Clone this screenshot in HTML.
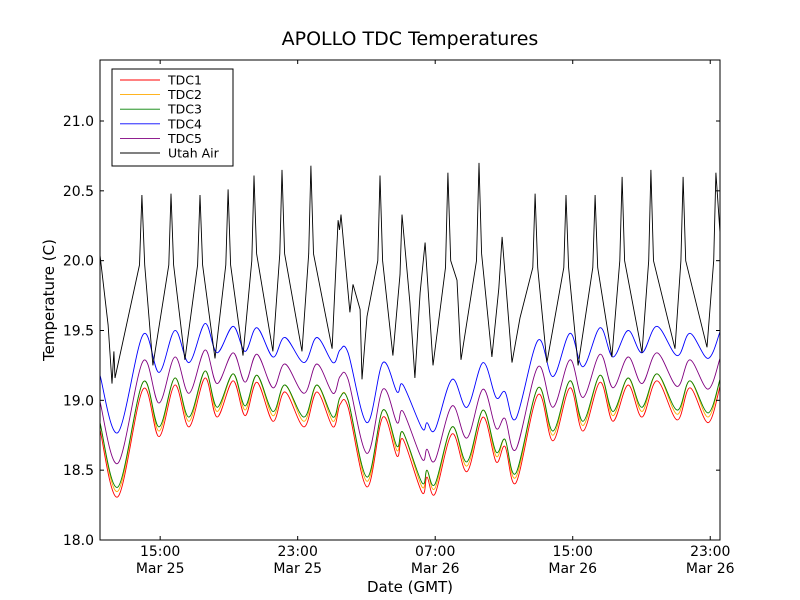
<!DOCTYPE html>
<html><head><meta charset="utf-8"><style>
html,body{margin:0;padding:0;background:#fff;}
svg{display:block;font-family:"DejaVu Sans","Liberation Sans",sans-serif;}
</style></head><body>
<svg id="chart" width="800" height="600" viewBox="0 0 800 600" xmlns="http://www.w3.org/2000/svg">
<rect width="800" height="600" fill="#fff"/>
<text x="410" y="45" text-anchor="middle" font-size="19">APOLLO TDC Temperatures</text>
<defs><clipPath id="clip"><rect x="100" y="60" width="620" height="480"/></clipPath></defs>
<g id="series" clip-path="url(#clip)"></g>
<rect x="100" y="60" width="620" height="480" fill="none" stroke="#000" stroke-width="1"/>
<g id="axes"></g>
<text x="410" y="592" text-anchor="middle" font-size="15">Date (GMT)</text>
<text x="54" y="300" text-anchor="middle" font-size="15" transform="rotate(-90 54 300)">Temperature (C)</text>
<g id="legend"></g>
</svg>
<script>
const tdcTimes=[0,1.05,2.50,3.43,4.36,5.18,6.11,6.81,7.74,8.44,9.13,10.06,10.76,11.87,12.62,13.55,13.96,14.43,15.53,16.46,17.28,17.63,18.73,19.02,19.49,20.48,21.35,22.28,23.04,23.56,24.20,25.48,26.35,27.34,28.10,29.09,29.84,30.72,31.53,32.40,33.57,34.32,35.37,36.07];
const tdc1=[18.79,18.31,19.08,18.74,19.11,18.81,19.16,18.88,19.14,18.89,19.13,18.85,19.06,18.81,19.06,18.81,18.97,18.95,18.38,18.88,18.60,18.72,18.34,18.45,18.33,18.76,18.49,18.88,18.56,18.67,18.41,19.04,18.71,19.09,18.78,19.13,18.85,19.11,18.88,19.14,18.86,19.09,18.84,19.10];
const tdc2=[18.84,18.35,19.13,18.78,19.16,18.85,19.21,18.92,19.19,18.93,19.18,18.89,19.11,18.85,19.11,18.85,19.02,19.00,18.42,18.93,18.64,18.77,18.38,18.50,18.37,18.81,18.53,18.93,18.60,18.72,18.45,19.09,18.75,19.14,18.82,19.18,18.89,19.16,18.92,19.19,18.90,19.14,18.88,19.15];
const tdc3=[18.84,18.38,19.13,18.81,19.16,18.88,19.21,18.95,19.19,18.96,19.18,18.92,19.11,18.88,19.11,18.88,19.02,19.00,18.45,18.93,18.67,18.77,18.41,18.50,18.40,18.81,18.56,18.93,18.63,18.72,18.48,19.09,18.78,19.14,18.85,19.18,18.92,19.16,18.95,19.19,18.93,19.14,18.91,19.15];
const tdc4=[19.18,18.77,19.47,19.20,19.50,19.27,19.55,19.34,19.53,19.35,19.52,19.31,19.45,19.27,19.45,19.27,19.36,19.34,18.84,19.27,19.06,19.11,18.80,18.84,18.79,19.15,18.95,19.27,19.02,19.06,18.87,19.43,19.17,19.48,19.24,19.52,19.31,19.50,19.34,19.53,19.32,19.48,19.30,19.49];
const tdc5=[18.99,18.55,19.28,18.98,19.31,19.05,19.36,19.12,19.34,19.13,19.33,19.09,19.26,19.05,19.26,19.05,19.17,19.15,18.62,19.08,18.84,18.92,18.58,18.65,18.57,18.96,18.73,19.08,18.80,18.87,18.65,19.24,18.95,19.29,19.02,19.33,19.09,19.31,19.12,19.34,19.10,19.29,19.08,19.30];
const airTimes=[0,0.47,0.70,0.81,0.87,2.30,2.44,2.60,3.08,4.00,4.13,4.28,4.94,5.68,5.82,5.97,6.69,7.32,7.45,7.60,8.32,8.83,8.96,9.11,10.06,10.46,10.59,10.74,11.75,12.14,12.27,12.42,13.50,13.85,13.93,14.02,14.54,14.72,15.13,15.24,15.53,16.16,16.29,16.44,17.04,17.45,17.57,18.03,18.32,18.62,18.91,19.37,20.10,20.24,20.40,20.77,21.00,21.90,22.05,22.20,22.80,23.20,23.39,23.97,24.43,25.18,25.31,25.46,26.00,26.98,27.11,27.26,27.81,28.67,28.80,28.95,29.78,30.24,30.37,30.52,31.53,31.92,32.05,32.20,33.45,33.79,33.92,34.07,35.31,35.70,35.83,36.07];
const airVals=[20.04,19.54,19.12,19.35,19.16,19.97,20.47,19.97,19.25,19.97,20.48,19.97,19.29,19.97,20.47,19.97,19.30,19.97,20.51,19.97,19.32,20.00,20.61,20.05,19.35,20.05,20.65,20.05,19.35,20.05,20.68,20.05,19.37,20.29,20.22,20.33,19.63,19.83,19.65,19.15,19.60,20.00,20.61,20.00,19.32,19.90,20.33,19.70,19.16,19.77,20.13,19.25,19.95,20.63,20.00,19.86,19.29,20.00,20.70,20.05,19.31,19.80,20.17,19.27,19.59,19.95,20.48,19.95,19.27,19.95,20.47,19.95,19.25,19.95,20.47,19.95,19.31,20.00,20.60,20.00,19.34,20.00,20.65,20.00,19.37,20.00,20.60,20.00,19.38,20.00,20.63,20.20];
const yTicks=[18.0,18.5,19.0,19.5,20.0,20.5,21.0];
const xTickHours=[3.5,11.5,19.5,27.5,35.5];
const xTickTimes=["15:00","23:00","07:00","15:00","23:00"];
const xTickDates=["Mar 25","Mar 25","Mar 26","Mar 26","Mar 26"];
const seriesNames=["TDC1","TDC2","TDC3","TDC4","TDC5","Utah Air"];
const seriesColors=["#ff0000","#ffaa00","#008000","#0000ff","#800080","#000000"];

const NS="http://www.w3.org/2000/svg";
function xPx(h){return 100+h*17.19;}
function yPx(v){return 540-(v-18)*139.67;}
function mk(tag,attrs,parent){const e=document.createElementNS(NS,tag);for(const k in attrs)e.setAttribute(k,attrs[k]);parent.appendChild(e);return e;}
function smoothPath(ts,vs){
  const p=ts.map((t,i)=>[xPx(t),yPx(vs[i])]);
  let d="M"+p[0][0].toFixed(1)+","+p[0][1].toFixed(1);
  for(let i=0;i<p.length-1;i++){
    const p0=p[i-1]||p[i],p1=p[i],p2=p[i+1],p3=p[i+2]||p2;
    const c1=[p1[0]+(p2[0]-p0[0])/6,p1[1]+(p2[1]-p0[1])/6];
    const c2=[p2[0]-(p3[0]-p1[0])/6,p2[1]-(p3[1]-p1[1])/6];
    d+="C"+c1[0].toFixed(1)+","+c1[1].toFixed(1)+" "+c2[0].toFixed(1)+","+c2[1].toFixed(1)+" "+p2[0].toFixed(1)+","+p2[1].toFixed(1);
  }
  return d;
}
function linePath(ts,vs){return ts.map((t,i)=>(i?"L":"M")+xPx(t).toFixed(1)+","+yPx(vs[i]).toFixed(1)).join("");}
const sg=document.getElementById("series");
const tdcData=[tdc1,tdc2,tdc3,tdc4,tdc5];
[4,3,1,2,0].forEach(i=>{
  const p=mk("path",{d:smoothPath(tdcTimes,tdcData[i]),fill:"none",stroke:seriesColors[i],"stroke-width":"0.9"},sg);
  
  
});
const air=mk("path",{d:linePath(airTimes,airVals),fill:"none",stroke:"#000","stroke-width":"0.9"},sg);



const ax=document.getElementById("axes");
yTicks.forEach(v=>{
  const y=yPx(v);
  const t1=mk("line",{x1:100,x2:104,y1:y,y2:y,stroke:"#000"},ax);
  
  
  const t2=mk("line",{x1:716,x2:720,y1:y,y2:y,stroke:"#000"},ax);
  
  
  const tx=mk("text",{x:94,y:y+5,"text-anchor":"end","font-size":"14"},ax);
  tx.textContent=v.toFixed(1);
  
  
});
xTickHours.forEach((h,i)=>{
  const x=xPx(h);
  const t1=mk("line",{x1:x,x2:x,y1:536,y2:540,stroke:"#000"},ax);
  
  
  const t2=mk("line",{x1:x,x2:x,y1:60,y2:64,stroke:"#000"},ax);
  
  
  const a=mk("text",{x:x,y:556,"text-anchor":"middle","font-size":"14"},ax);
  a.textContent=xTickTimes[i];
  
  
  const b=mk("text",{x:x,y:573,"text-anchor":"middle","font-size":"14"},ax);
  b.textContent=xTickDates[i];
  
  
});
const lg=document.getElementById("legend");
const box=mk("rect",{x:112,y:69,width:121,height:97,fill:"#fff",stroke:"#000"},lg);


seriesNames.forEach((n,i)=>{
  const y=80+i*14.6;
  const l=mk("line",{x1:120,x2:160,y1:y,y2:y,stroke:seriesColors[i],"stroke-width":"0.9"},lg);
  
  
  const t=mk("text",{x:168,y:y+4.5,"font-size":"12.5"},lg);
  t.textContent=n;
  
  
});
</script>
</body></html>
